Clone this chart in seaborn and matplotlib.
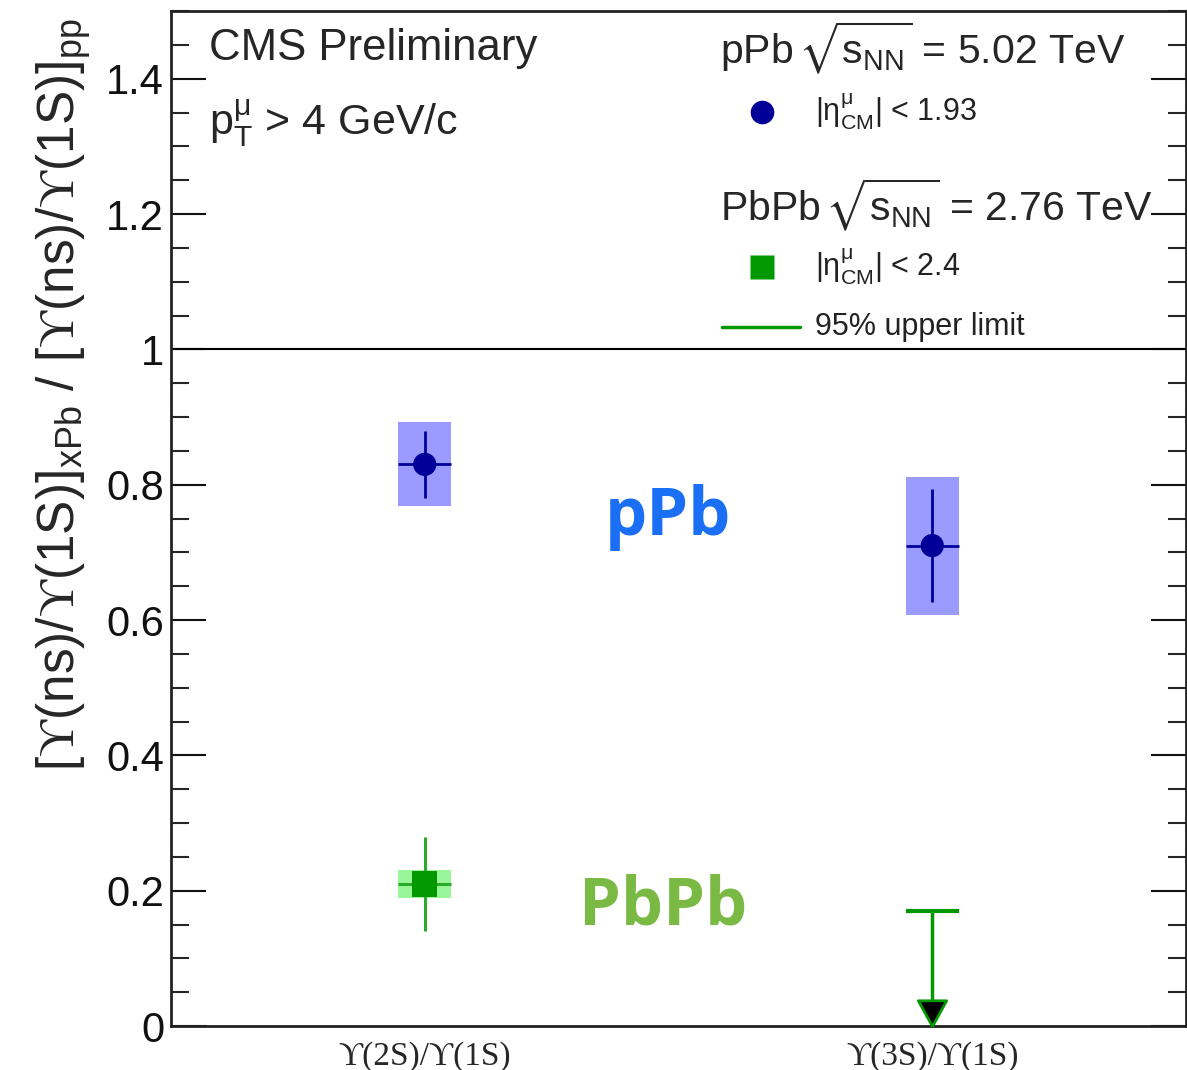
import matplotlib
matplotlib.use("Agg")
import matplotlib.pyplot as plt
import numpy as np
import pandas as pd
import seaborn as sns
from matplotlib.ticker import MultipleLocator

# Double ratios [Y(nS)/Y(1S)]_xPb / [Y(nS)/Y(1S)]_pp
categories = ["ϒ(2S)/ϒ(1S)", "ϒ(3S)/ϒ(1S)"]
cat_pos = [0.5, 1.5]

ppb_value = [0.83, 0.71]
ppb_stat = [0.05, 0.083]
ppb_syst = [0.062, 0.102]

pbpb_value = [0.21]
pbpb_stat = [0.07]
pbpb_syst = [0.021]
pbpb_limit = [0.17]   # 95% CL upper limit on the 3S double ratio

ytick_values = [0, 0.2, 0.4, 0.6, 0.8, 1.0, 1.2, 1.4]
ytick_labels = ["0", "0.2", "0.4", "0.6", "0.8", "1", "1.2", "1.4"]

box_hw = 0.052  # half width of the systematic boxes (x units)

sns.set_style("white")
plt.rcParams["font.family"] = ["Liberation Sans", "DejaVu Sans"]
plt.rcParams["mathtext.fontset"] = "custom"
plt.rcParams["mathtext.rm"] = "Liberation Sans"
plt.rcParams["mathtext.it"] = "Liberation Sans:italic"
plt.rcParams["mathtext.bf"] = "Liberation Sans:bold"
plt.rcParams["mathtext.sf"] = "Liberation Serif"
plt.rcParams["mathtext.fallback"] = "stixsans"

fig = plt.figure(figsize=(11.87, 10.70), dpi=100)
ax = fig.add_axes([171 / 1187, 44 / 1070, 1015 / 1187, 1015 / 1070])

# systematic uncertainty boxes
ax.bar(cat_pos, [2 * s for s in ppb_syst],
       bottom=[v - s for v, s in zip(ppb_value, ppb_syst)],
       width=2 * box_hw, color="#9b9bff", edgecolor="none", zorder=2)
ax.bar(cat_pos[:1], [2 * s for s in pbpb_syst],
       bottom=[v - s for v, s in zip(pbpb_value, pbpb_syst)],
       width=2 * box_hw, color="#99f799", edgecolor="none", zorder=2)

# statistical error bars
ax.errorbar(cat_pos, ppb_value, yerr=ppb_stat, xerr=box_hw, fmt="none",
            ecolor="#000099", elinewidth=2, capsize=0, zorder=3)
ax.errorbar(cat_pos[:1], pbpb_value, yerr=pbpb_stat, xerr=box_hw, fmt="none",
            ecolor="#2aaa2a", elinewidth=2.2, capsize=0, zorder=3)

# central values
df_ppb = pd.DataFrame({"x": cat_pos, "y": ppb_value})
df_pbpb = pd.DataFrame({"x": cat_pos[:1], "y": pbpb_value})
sns.scatterplot(data=df_ppb, x="x", y="y", marker="o", s=280, color="#000099",
                edgecolor="none", ax=ax, zorder=4)
sns.scatterplot(data=df_pbpb, x="x", y="y", marker="s", s=330, color="#009900",
                edgecolor="none", ax=ax, zorder=4)

# upper limit: bar at the limit, line down to zero, arrowhead with tip on the axis
ax.hlines(pbpb_limit, cat_pos[1] - box_hw, cat_pos[1] + box_hw,
          color="#009900", lw=3, zorder=3)
ax.vlines(cat_pos[1:], 0, pbpb_limit, color="#009900", lw=2.5, zorder=3)
arrow_head = [(0, 0), (-0.55, 1), (0.55, 1), (0, 0)]
ax.plot(cat_pos[1:], [0], marker=arrow_head, ms=37, mfc="black",
        mec="#009900", mew=2, ls="none", clip_on=False, zorder=5)

# reference line at unity
ax.axhline(1.0, color="black", lw=1.5, zorder=1)

ax.set_xlim(0, 2)
ax.set_ylim(0, 1.5)
ax.set_xlabel("")
ax.set_ylabel("")

ax.set_yticks(ytick_values)
ax.set_yticklabels(ytick_labels)
ax.yaxis.set_minor_locator(MultipleLocator(0.05))
ax.tick_params(axis="y", which="major", direction="in", length=25, width=1.5,
               left=True, right=True, labelsize=30, pad=5, colors="#111111")
ax.tick_params(axis="y", which="minor", direction="in", length=13, width=1.5,
               left=True, right=True)

ax.set_xticks(cat_pos)
ax.set_xticklabels(categories, fontfamily=["Liberation Serif", "DejaVu Serif"],
                   fontsize=24)
ax.tick_params(axis="x", length=0, pad=11)

for sp in ax.spines.values():
    sp.set_linewidth(2)
    sp.set_color("#222222")

# axis title
ax.text(-0.106, 0.622,
        r"$[\mathsf{ϒ}\mathrm{(ns)/}\mathsf{ϒ}\mathrm{(1S)}]_{\mathrm{xPb}}\ /\ "
        r"[\mathsf{ϒ}\mathrm{(ns)/}\mathsf{ϒ}\mathrm{(1S)}]_{\mathrm{pp}}$",
        rotation=90, ha="center", va="center", fontsize=37,
        transform=ax.transAxes)

# header texts
ax.text(0.0374, 0.952, "CMS Preliminary", fontsize=31.5, ha="left",
        va="baseline", transform=ax.transAxes)
ax.text(0.0374, 0.877, r"$\mathrm{p}_{\mathrm{T}}^{\mathrm{\mu}}$ > 4 GeV/c",
        fontsize=31, ha="left", va="baseline", transform=ax.transAxes)

# legend block
ax.text(0.541, 0.9488, r"pPb$\,\sqrt{\mathrm{s}_{\mathrm{NN}}}$ = 5.02 TeV",
        fontsize=29.5, ha="left", va="baseline", transform=ax.transAxes)
ax.plot([0.582], [0.9005], marker="o", ms=17, color="#000099", mec="none",
        transform=ax.transAxes, clip_on=False)
ax.text(0.6345, 0.9005, r"$|\mathrm{η}^{\mathrm{\mu}}_{\mathrm{CM}}|$ < 1.93",
        fontsize=22, ha="left", va="center", color="#222222",
        transform=ax.transAxes)

ax.text(0.541, 0.794, r"PbPb$\,\sqrt{\mathrm{s}_{\mathrm{NN}}}$ = 2.76 TeV",
        fontsize=29.5, ha="left", va="baseline", transform=ax.transAxes)
ax.plot([0.582], [0.7478], marker="s", ms=17, color="#009900", mec="none",
        transform=ax.transAxes, clip_on=False)
ax.text(0.6345, 0.7478, r"$|\mathrm{η}^{\mathrm{\mu}}_{\mathrm{CM}}|$ < 2.4",
        fontsize=22, ha="left", va="center", color="#222222",
        transform=ax.transAxes)
ax.plot([0.5429, 0.6197], [0.6887, 0.6887], color="#009900", lw=2.5,
        transform=ax.transAxes, clip_on=False)
ax.text(0.6345, 0.6887, "95% upper limit", fontsize=22, ha="left",
        va="center", color="#222222", transform=ax.transAxes)

# collision system labels
ax.text(0.979, 0.751, "pPb", fontsize=48, fontweight="bold",
        fontfamily="Open Sans", color="#1a6ff5", ha="center", va="center")
ax.text(0.969, 0.176, "PbPb", fontsize=48, fontweight="bold",
        fontfamily="Open Sans", color="#7aba44", ha="center", va="center")

fig.savefig("out.png", dpi=100)
